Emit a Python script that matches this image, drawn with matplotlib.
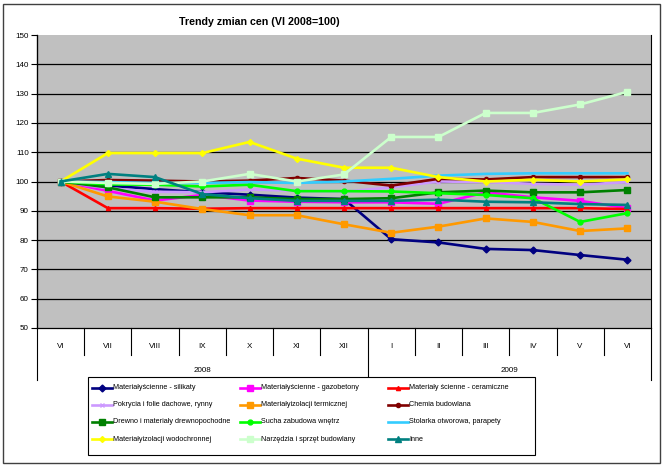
import matplotlib
matplotlib.use("Agg")
import matplotlib.pyplot as plt
from matplotlib.lines import Line2D
from matplotlib.patches import Rectangle

plt.rcParams['font.family'] = ['Liberation Sans', 'DejaVu Sans']

months = ["VI", "VII", "VIII", "IX", "X", "XI", "XII", "I", "II", "III", "IV", "V", "VI"]
years = ["2008", "2009"]
yticks = [50, 60, 70, 80, 90, 100, 110, 120, 130, 140, 150]

series_names = [
    "Materiałyścienne - silikaty",
    "Materiałyścienne - gazobetony",
    "Materiały ścienne - ceramiczne",
    "Pokrycia i folie dachowe, rynny",
    "Materiałyizolacji termicznej",
    "Chemia budowlana",
    "Drewno i materiały drewnopochodne",
    "Sucha zabudowa wnętrz",
    "Stolarka otworowa, parapety",
    "Materiałyizolacji wodochronnej",
    "Narzędzia i sprzęt budowlany",
    "Inne",
]

silikaty = [100, 98.6, 97.4, 96.3, 95.5, 94.5, 94.0, 80.3, 79.2, 77.0, 76.6, 74.9, 73.3]
gazobetony = [100, 96.8, 93.5, 95.4, 93.5, 93.1, 92.9, 92.9, 92.4, 96.3, 94.6, 93.4, 90.9]
ceramiczne = [100, 90.9, 90.9, 90.7, 90.9, 90.9, 90.9, 90.9, 90.9, 90.9, 90.9, 90.9, 90.6]
pokrycia = [100, 97.7, 96.5, 96.3, 97.3, 96.8, 96.5, 98.0, 100.0, 99.8, 99.2, 98.9, 99.8]
termiczne = [100, 94.9, 93.1, 90.6, 88.5, 88.5, 85.4, 82.5, 84.6, 87.4, 86.2, 83.1, 84.0]
chemia = [100, 100.5, 100.3, 100.0, 100.3, 101.2, 100.3, 98.6, 100.9, 100.7, 101.5, 101.5, 101.5]
drewno = [100, 98.0, 94.6, 94.6, 94.6, 94.0, 94.0, 94.3, 96.3, 96.9, 96.3, 96.3, 97.1]
sucha = [100, 99.0, 98.9, 98.3, 98.9, 96.7, 96.7, 96.6, 96.0, 95.4, 94.3, 86.2, 89.2]
stolarka = [100, 99.8, 99.5, 99.5, 99.8, 99.5, 100.0, 100.9, 102.0, 102.6, 102.8, 102.8, 102.8]
wodochronna = [100, 109.7, 109.7, 109.7, 113.5, 107.8, 104.7, 104.7, 101.5, 100.0, 100.6, 100.0, 100.7]
narzedzia = [100, 99.5, 99.2, 100.0, 102.6, 100.0, 102.4, 115.2, 115.2, 123.4, 123.4, 126.3, 130.6]
inne = [100, 102.6, 101.5, 95.7, 94.3, 93.4, 93.4, 93.4, 93.8, 93.1, 92.9, 92.3, 92.0]

values = [silikaty, gazobetony, ceramiczne, pokrycia, termiczne, chemia,
          drewno, sucha, stolarka, wodochronna, narzedzia, inne]
colors = ["#000080", "#FF00FF", "#FF0000", "#CC99FF", "#FF9900", "#800000",
          "#008000", "#00FF00", "#33CCFF", "#FFFF00", "#CCFFCC", "#008080"]
markers = ["D", "s", "^", "x", "s", "o", "s", "o", None, "D", "s", "^"]
msizes = [3.5, 4, 3, 3.5, 4.5, 3, 4, 3.5, 0, 3, 5, 5]

W, H = 664, 466
fig = plt.figure(figsize=(W / 100, H / 100), dpi=100)
fig.patch.set_facecolor("white")
fig.add_artist(Rectangle((3 / W, 3 / H), 657 / W, 459 / H, transform=fig.transFigure,
                         fill=False, edgecolor="#404040", linewidth=1.0))

left, right, top, bottom = 37, 651, 35, 328
ax = fig.add_axes([left / W, 1 - bottom / H, (right - left) / W, (bottom - top) / H])
ax.set_facecolor("#C0C0C0")

x = list(range(len(months)))
handles = []
for name, vals, c, m, ms in zip(series_names, values, colors, markers, msizes):
    ln, = ax.plot(x, vals, color=c, linewidth=1.9, marker=m, markersize=ms,
                  markeredgecolor=c, markerfacecolor=c, label=name, zorder=3)
    handles.append(ln)

ax.set_xlim(-0.5, len(months) - 0.5)
ax.set_ylim(50, 150)
ax.set_yticks(yticks)
ax.set_yticklabels([str(v) for v in yticks], fontsize=5.8)
ax.tick_params(axis="y", length=4, width=0.8, pad=2)
ax.set_xticks([])
for v in yticks[1:-1]:
    ax.axhline(v, color="black", linewidth=0.9, zorder=1)
for s in ["top", "right"]:
    ax.spines[s].set_visible(False)
ax.spines["left"].set_linewidth(0.9)
ax.spines["bottom"].set_linewidth(0.9)

# two-level category axis
ph = bottom - top
def yfrac(py):
    return (bottom - py) / ph

month_bot = yfrac(355)
axis_bot = yfrac(380)
tr = ax.get_xaxis_transform()
for k in range(1, len(months)):
    yb = axis_bot if k == 7 else month_bot
    ax.add_line(Line2D([k - 0.5, k - 0.5], [0, yb], transform=tr, color="black",
                       linewidth=0.8, clip_on=False))
for xe in [-0.5, len(months) - 0.5]:
    ax.add_line(Line2D([xe, xe], [1, axis_bot], transform=tr,
                       color="black", linewidth=0.8, clip_on=False))
for i, mth in enumerate(months):
    ax.text(i, yfrac(347), mth, transform=tr, ha="center", va="center", fontsize=5.8)
ax.text(3, yfrac(371), years[0], transform=tr, ha="center", va="center", fontsize=5.8)
ax.text(9.5, yfrac(371), years[1], transform=tr, ha="center", va="center", fontsize=5.8)

fig.text(0.5 * (180 + 338) / W, 1 - 22 / H, "Trendy zmian cen (VI 2008=100)",
         ha="center", va="center", fontsize=7.7, fontweight="bold")

# legend: 4 rows x 3 equal-width columns, row-major like the original
lx0, lx1, ly0, ly1 = 88, 535, 377, 455
fig.add_artist(Rectangle((lx0 / W, 1 - ly1 / H), (lx1 - lx0) / W, (ly1 - ly0) / H,
                         transform=fig.transFigure, facecolor="white",
                         edgecolor="black", linewidth=0.8))
colw = 148
for i, h in enumerate(handles):
    r, c = divmod(i, 3)
    hx0 = 92 + colw * c
    hx1 = hx0 + 20
    yy = 1 - (387.5 + 17.2 * r) / H
    fig.add_artist(Line2D([hx0 / W, hx1 / W], [yy, yy], transform=fig.transFigure,
                          color=h.get_color(), linewidth=1.9))
    if h.get_marker() not in (None, "None", ""):
        fig.add_artist(Line2D([(hx0 + hx1) / 2 / W], [yy], transform=fig.transFigure,
                              color=h.get_color(), marker=h.get_marker(),
                              markersize=h.get_markersize(), linestyle="none"))
    fig.text((hx1 + 1) / W, yy, h.get_label(), ha="left", va="center", fontsize=5.2)

fig.savefig("out.png", dpi=100)
